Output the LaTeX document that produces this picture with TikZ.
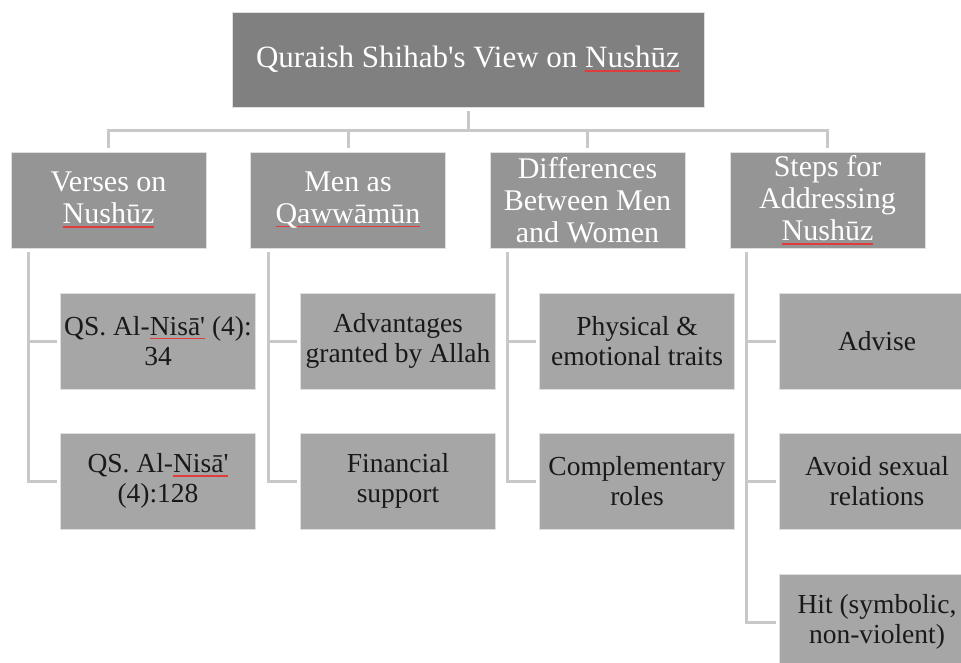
\documentclass[tikz,border=0pt]{standalone}
\usepackage{fontspec}
\setmainfont{Liberation Serif}[Ligatures=ResetAll]
\usetikzlibrary{calc}
\definecolor{topgray}{HTML}{808080}
\definecolor{midgray}{HTML}{959595}
\definecolor{lowgray}{HTML}{A6A6A6}
\definecolor{linegray}{HTML}{C8C8C8}
\definecolor{sqred}{HTML}{E03C3C}
\newsavebox\sqbox
\newcommand\squig[1]{\sbox\sqbox{#1}\rlap{\raisebox{-4pt}{\color{sqred}\rule{\wd\sqbox}{1.5pt}}}#1}
\newcommand\apos{\textquotesingle}
\begin{document}
\begin{tikzpicture}[x=1pt,y=-1pt,
  box/.style={rectangle, minimum width=195pt, minimum height=96pt, inner sep=1pt, align=center, draw=white!75!gray, line width=0.8pt},
  topbox/.style={box, fill=topgray, text=white, minimum width=472pt, minimum height=95pt, font=\fontsize{31}{34}\selectfont},
  midbox/.style={box, fill=midgray, text=white, font=\fontsize{30}{32}\selectfont},
  lowbox/.style={box, fill=lowgray, text=black!90, font=\fontsize{27.5}{30}\selectfont},
  conn/.style={draw=linegray, line width=3pt}]
\path[use as bounding box, clip] (0,0) rectangle (961,663);
\fill[white] (0,0) rectangle (961,663);

\node[topbox] (top) at (468,59.5) {Quraish Shihab\apos s View on \squig{Nushūz}};

\node[midbox] (v) at (108.5,200) {Verses on\\\squig{Nushūz}};
\node[midbox] (m) at (348,200) {Men as\\\squig{Qawwāmūn}};
\node[midbox] (d) at (587.5,200) {Differences\\Between Men\\and Women};
\node[midbox] (s) at (827.5,200) {Steps for\\Addressing\\\squig{Nushūz}};

\node[lowbox] (v1) at (158,341) {QS. Al-\squig{Nisā\apos} (4):\\34};
\node[lowbox] (v2) at (158,481) {QS. Al-\squig{Nisā\apos}\\(4):128};
\node[lowbox] (m1) at (398,341) {Advantages\\granted by Allah};
\node[lowbox] (m2) at (398,481) {Financial\\support};
\node[lowbox] (d1) at (637,341) {Physical \&\\emotional traits};
\node[lowbox] (d2) at (637,481) {Complementary\\roles};
\node[lowbox] (s1) at (877,341) {Advise};
\node[lowbox] (s2) at (877,481) {Avoid sexual\\relations};
\node[lowbox] (s3) at (877,622) {Hit (symbolic,\\non-violent)};

% top-level connectors
\coordinate (hb) at ($(top.south)+(0,23)$);
\draw[conn] ([yshift=-4pt]top.south) -- (top.south |- hb);
\draw[conn] ([yshift=4pt]v.north) -- (v.north |- hb) -- (s.north |- hb) -- ([yshift=4pt]s.north);
\draw[conn] (m.north |- hb) -- ([yshift=4pt]m.north);
\draw[conn] (d.north |- hb) -- ([yshift=4pt]d.north);

% column connectors
\coordinate (vc) at ([xshift=18pt,yshift=-4pt]v.south west);
\coordinate (mc) at ([xshift=18pt,yshift=-4pt]m.south west);
\coordinate (dc) at ([xshift=18pt,yshift=-4pt]d.south west);
\coordinate (sc) at ([xshift=17pt,yshift=-4pt]s.south west);
\draw[conn] (vc) |- ([xshift=-3pt]v2.west);
\draw[conn] (vc |- v1.west) -- ([xshift=-3pt]v1.west);
\draw[conn] (mc) |- ([xshift=-3pt]m2.west);
\draw[conn] (mc |- m1.west) -- ([xshift=-3pt]m1.west);
\draw[conn] (dc) |- ([xshift=-3pt]d2.west);
\draw[conn] (dc |- d1.west) -- ([xshift=-3pt]d1.west);
\draw[conn] (sc) |- ([xshift=-3pt]s3.west);
\draw[conn] (sc |- s1.west) -- ([xshift=-3pt]s1.west);
\draw[conn] (sc |- s2.west) -- ([xshift=-3pt]s2.west);
\end{tikzpicture}
\end{document}
